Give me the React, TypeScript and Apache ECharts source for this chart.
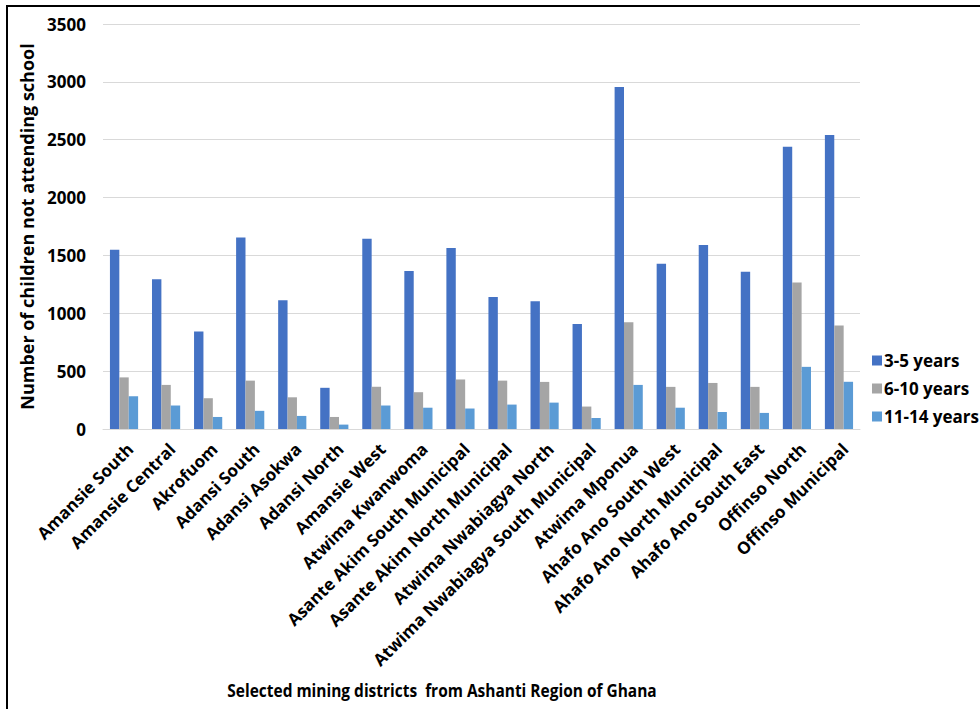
import React, { useEffect, useRef } from "react";
import * as echarts from "echarts";

const districts = [
  "Amansie South",
  "Amansie Central",
  "Akrofuom",
  "Adansi South",
  "Adansi Asokwa",
  "Adansi North",
  "Amansie West",
  "Atwima Kwanwoma",
  "Asante Akim South Municipal",
  "Asante Akim North Municipal",
  "Atwima Nwabiagya North",
  "Atwima Nwabiagya South Municipal",
  "Atwima Mponua",
  "Ahafo Ano South West",
  "Ahafo Ano North Municipal",
  "Ahafo Ano South East",
  "Offinso North",
  "Offinso Municipal",
];

const years3to5 = [1548, 1295, 843, 1655, 1112, 356, 1645, 1366, 1565, 1140, 1104, 908, 2955, 1428, 1590, 1358, 2440, 2540];
const years6to10 = [446, 381, 266, 418, 274, 104, 365, 318, 428, 418, 407, 194, 922, 364, 398, 364, 1265, 894];
const years11to14 = [283, 203, 104, 157, 113, 38, 203, 184, 177, 211, 228, 95, 381, 184, 147, 139, 537, 408];

const seriesNames = ["3-5 years", "6-10 years", "11-14 years"];
const seriesColors = ["#4472C4", "#A5A5A5", "#5B9BD5"];

const yTicks = { min: 0, max: 3500, interval: 500 };

const FONT = "'Open Sans', 'Liberation Sans', sans-serif";

export default function App() {
  const ref = useRef<HTMLDivElement>(null);

  useEffect(() => {
    if (!ref.current) return;
    const chart = echarts.init(ref.current, null, { renderer: "svg" });
    const data = [years3to5, years6to10, years11to14];
    chart.setOption({
      animation: false,
      backgroundColor: "#ffffff",
      textStyle: { fontFamily: FONT },
      grid: [
        { left: 103, right: 120, top: 24, bottom: 280 },
        { left: 109, right: 114, top: 24, bottom: 280 },
      ],
      legend: {
        orient: "vertical",
        left: 867,
        top: 345,
        itemWidth: 10,
        itemHeight: 10,
        itemGap: 7,
        icon: "rect",
        data: seriesNames,
        textStyle: {
          fontFamily: FONT,
          fontWeight: "bold",
          fontSize: 17,
          color: "#000",
          lineHeight: 21,
          padding: [0, 0, 0, -3],
        },
      },
      xAxis: [
        {
          type: "category",
          gridIndex: 0,
          data: districts,
          axisLine: { lineStyle: { color: "#d9d9d9", width: 1 } },
          axisTick: { show: false },
          axisLabel: { show: false },
        },
        {
          type: "category",
          gridIndex: 1,
          data: districts,
          axisLine: { show: false },
          axisTick: { show: false },
          splitLine: { show: false },
          axisLabel: {
            interval: 0,
            rotate: 45,
            margin: 17,
            fontFamily: FONT,
            fontWeight: "bold",
            fontSize: 17,
            color: "#000",
          },
        },
      ],
      yAxis: [
        {
          type: "value",
          gridIndex: 0,
          min: yTicks.min,
          max: yTicks.max,
          interval: yTicks.interval,
          name: "Number of children not attending school",
          nameLocation: "middle",
          nameGap: 63,
          nameTextStyle: {
            fontFamily: FONT,
            fontWeight: "bold",
            fontSize: 18,
            color: "#000",
          },
          axisLine: { show: false },
          axisTick: { show: false },
          splitLine: { lineStyle: { color: "#d9d9d9", width: 1 } },
          axisLabel: {
            margin: 17,
            fontFamily: FONT,
            fontWeight: "bold",
            fontSize: 17,
            color: "#000",
            formatter: (v: number) => String(v),
          },
        },
        {
          type: "value",
          gridIndex: 1,
          min: yTicks.min,
          max: yTicks.max,
          interval: yTicks.interval,
          show: false,
          splitLine: { show: false },
        },
      ],
      series: seriesNames.map((name, i) => ({
        name,
        type: "bar",
        xAxisIndex: 0,
        yAxisIndex: 0,
        data: data[i],
        barGap: "0%",
        barCategoryGap: "33%",
        itemStyle: { color: seriesColors[i] },
      })),
      graphic: [
        {
          type: "rect",
          shape: { x: 7, y: 6, width: 1100, height: 1000 },
          style: { fill: "none", stroke: "#000", lineWidth: 2 },
          silent: true,
        },
        {
          type: "text",
          x: 442,
          y: 690,
          scaleX: 0.86,
          style: {
            text: "Selected mining districts  from Ashanti Region of Ghana",
            fontFamily: FONT,
            fontWeight: "bold",
            fontSize: 18,
            fill: "#000",
            align: "center",
            verticalAlign: "middle",
          },
        },
      ],
    });
    return () => chart.dispose();
  }, []);

  return (
    <div
      ref={ref}
      style={{ position: "absolute", left: 0, top: 0, width: 980, height: 709 }}
    />
  );
}
